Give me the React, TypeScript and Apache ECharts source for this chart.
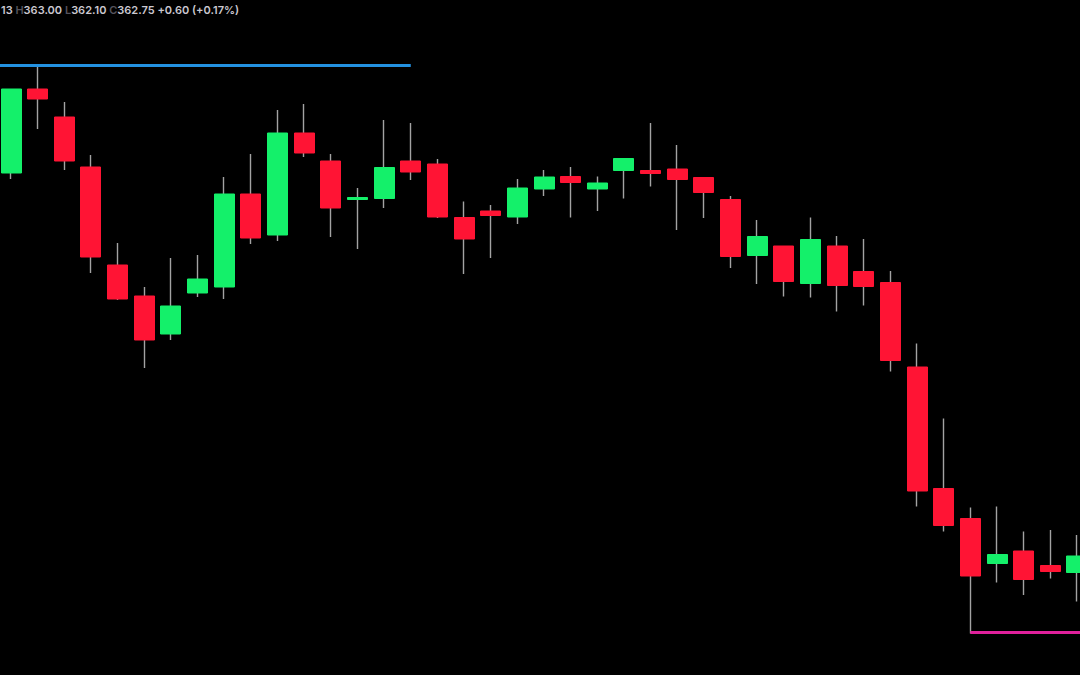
import React, { useEffect, useRef } from "react";
import * as echarts from "echarts";

// Candles: [open, close, low, high]
const opens = [
  362.54, 364.22, 363.66, 362.66, 360.7, 360.08, 359.32, 360.14, 360.26, 362.12,
  361.3, 363.34, 362.78, 362.01, 362.03, 362.78, 362.72, 361.65, 361.78, 361.66,
  362.22, 362.47, 362.22, 362.59, 362.59, 362.62, 362.45, 362.01, 360.89, 361.08,
  360.33, 361.08, 360.57, 360.35, 358.66, 356.23, 355.63, 354.73, 354.98, 354.69,
  354.55,
];
const closes = [
  364.22, 364.02, 362.78, 360.86, 360.02, 359.2, 359.88, 360.42, 362.12, 361.24,
  363.34, 362.94, 361.84, 362.05, 362.65, 362.56, 361.66, 361.22, 361.69, 362.24,
  362.46, 362.35, 362.34, 362.83, 362.53, 362.41, 362.15, 360.87, 361.27, 360.37,
  361.21, 360.29, 360.27, 358.79, 356.18, 355.49, 354.48, 354.91, 354.41, 354.57,
  354.88,
];
const lows = [
  362.42, 363.42, 362.6, 360.54, 360.0, 358.64, 359.2, 360.06, 360.02, 361.12,
  361.18, 362.86, 361.26, 361.02, 361.84, 362.4, 361.64, 360.52, 360.84, 361.52,
  362.08, 361.65, 361.78, 362.03, 362.27, 361.4, 361.64, 360.64, 360.32, 360.07,
  360.05, 359.77, 359.89, 358.57, 355.87, 355.37, 353.33, 354.35, 354.1, 354.43,
  353.97,
];
const highs = [
  364.22, 364.68, 363.96, 362.9, 361.14, 360.26, 360.84, 360.9, 362.46, 362.92,
  363.8, 363.92, 362.92, 362.24, 363.6, 363.54, 362.82, 361.97, 361.9, 362.42,
  362.6, 362.66, 362.47, 362.83, 363.54, 363.1, 362.45, 362.08, 361.6, 361.08,
  361.65, 361.28, 361.22, 360.58, 359.13, 357.63, 355.85, 355.87, 355.37, 355.4,
  355.3,
];
const categories = opens.map((_, i) => String(i + 1));

const resistanceLevel = 364.7;
const resistanceEndIndex = 15;
const supportLevel = 353.36;
const supportStartIndex = 36;

const headerText = "13 {l|H}363.00 {l|L}362.10 {l|C}362.75 +0.60 (+0.17%)";

const GREEN = "#14f06a";
const RED = "#ff1434";
const WICK = "#a3a3a3";

// The chart canvas is wider than the page and shifted left so that the
// first and last candles can be cut by the page edges, as in the reference.
const SHIFT = 10;
const CANVAS_W = 1120;

export default function App() {
  const ref = useRef<HTMLDivElement>(null);
  useEffect(() => {
    if (!ref.current) return;
    const chart = echarts.init(ref.current, null, { renderer: "svg" });
    const full = opens.map((o, i) => [o, closes[i], lows[i], highs[i]]);
    const bodies = opens.map((o, i) => [
      o,
      closes[i],
      Math.min(o, closes[i]),
      Math.max(o, closes[i]),
    ]);
    chart.setOption({
      animation: false,
      backgroundColor: "#000000",
      title: {
        left: SHIFT + 1,
        top: 4,
        padding: 0,
        text: headerText,
        textStyle: {
          color: "#cbc8d0",
          fontSize: 11,
          fontWeight: 600,
          fontFamily: "Inter, 'Noto Sans', sans-serif",
          rich: {
            l: {
              color: "#55535c",
              fontSize: 11,
              fontWeight: 600,
              fontFamily: "Inter, 'Noto Sans', sans-serif",
            },
          },
        },
      },
      grid: {
        left: SHIFT - 2.3,
        right: CANVAS_W - (SHIFT - 2.3) - 1092.6,
        top: 0,
        bottom: 0,
        containLabel: false,
      },
      xAxis: {
        type: "category",
        data: categories,
        boundaryGap: true,
        show: false,
      },
      yAxis: {
        type: "value",
        min: 352.5,
        max: 366,
        show: false,
        splitLine: { show: false },
      },
      series: [
        {
          type: "candlestick",
          name: "wicks",
          data: full,
          barWidth: 0.5,
          silent: true,
          itemStyle: {
            color: WICK,
            color0: WICK,
            borderColor: WICK,
            borderColor0: WICK,
            borderWidth: 1.4,
          },
          markLine: {
            silent: true,
            symbol: ["none", "none"],
            label: { show: false },
            data: [
              [
                { coord: [0, resistanceLevel], x: SHIFT, lineStyle: { color: "#2391e0", width: 3, type: "solid" } },
                { coord: [resistanceEndIndex, resistanceLevel] },
              ],
              [
                { coord: [supportStartIndex, supportLevel], lineStyle: { color: "#e0209c", width: 3, type: "solid" } },
                { coord: [categories.length - 1, supportLevel], x: SHIFT + 1080 },
              ],
            ],
          },
        },
        {
          type: "candlestick",
          name: "bodies",
          data: bodies,
          barWidth: 20.5,
          itemStyle: {
            color: GREEN,
            color0: RED,
            borderColor: GREEN,
            borderColor0: RED,
            borderWidth: 1,
          },
        },
      ],
    });
    return () => chart.dispose();
  }, []);
  return (
    <div
      style={{
        position: "fixed",
        left: 0,
        top: 0,
        width: 1080,
        height: 675,
        overflow: "hidden",
        background: "#000",
      }}
    >
      <div
        ref={ref}
        style={{
          position: "absolute",
          left: -SHIFT,
          top: 0,
          width: CANVAS_W,
          height: 675,
        }}
      />
    </div>
  );
}
